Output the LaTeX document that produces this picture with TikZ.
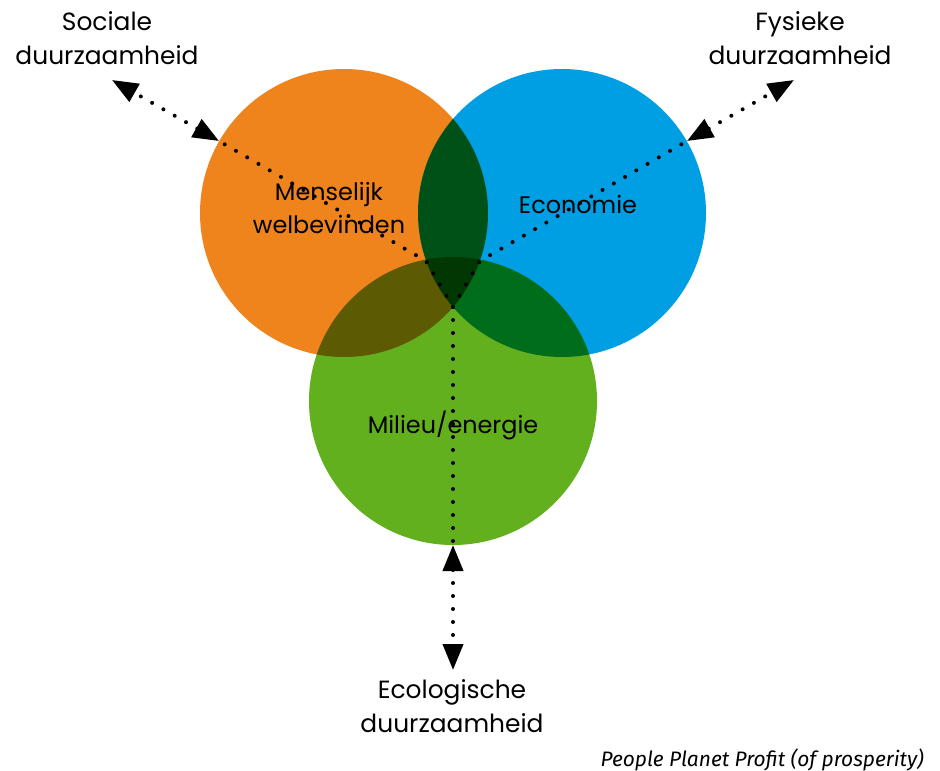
\documentclass[tikz,border=0pt]{standalone}
\usepackage{fontspec}
\setmainfont{Poppins}
\newfontfamily\notefont{Fira Sans}
\usepackage{tikz}
\usetikzlibrary{arrows.meta}

\definecolor{ppporange}{RGB}{239,131,28}
\definecolor{pppblue}{RGB}{0,159,227}
\definecolor{pppgreen}{RGB}{99,176,31}

\begin{document}
\begin{tikzpicture}[
    x=1bp, y=-1bp,
    ringtext/.style={align=center, inner sep=0pt, font=\fontsize{25}{34}\selectfont},
    dots/.style={line width=4bp, line cap=round, dash pattern=on 0bp off 13bp},
    twoway/.style={dots, {Triangle[length=26bp,width=20bp]}-{Triangle[length=26bp,width=20bp]}}
]
\useasboundingbox (0,0) rectangle (940,771);

% The three pillars, mixed where they overlap.
\begin{scope}[blend group=multiply]
\fill[ppporange] (344,213) circle [radius=144bp];
\fill[pppblue] (562,213) circle [radius=144bp];
\fill[pppgreen] (453,401) circle [radius=144bp];
\end{scope}

% Points where the dotted lines start, bend and end.
\coordinate (mid) at (453,307);
\coordinate (leftmeet) at (426,261);
\coordinate (rightmeet) at (480,261);
\coordinate (leftedge) at (219,141);
\coordinate (rightedge) at (687,141);
\coordinate (bottomedge) at (453,545);
\coordinate (leftend) at (112,80);
\coordinate (rightend) at (794,80);
\coordinate (bottomend) at (453,670);

% Texts inside the circles.
\node[ringtext, font=\fontsize{24}{34}\selectfont] (mens) at (329,208) {Menselijk\\welbevinden};
\node[ringtext, font=\fontsize{24}{34}\selectfont] (econ) at (578,205) {Economie};
\node[ringtext, font=\fontsize{24}{34}\selectfont] (milieu) at (453,425) {Milieu/energie};

% Texts outside.
\node[ringtext] (sociaal) at (107,38) {Sociale\\duurzaamheid};
\node[ringtext] (fysiek) at (800,38) {Fysieke\\duurzaamheid};
\node[ringtext] (ecolog) at (452,706) {Ecologische\\duurzaamheid};
\node[anchor=base east, inner sep=0pt, font=\notefont\itshape\fontsize{21}{24}\selectfont] (bron) at (924,766) {People Planet Profit (of prosperity)};

% Dotted links.
\draw[dots] (mid) -- (leftmeet) -- (leftedge);
\draw[dots] (mid) -- (rightmeet) -- (rightedge);
\draw[dots] (mid) -- (bottomedge);
\draw[twoway] (leftedge) -- (leftend);
\draw[twoway] (rightedge) -- (rightend);
\draw[twoway] (bottomedge) -- (bottomend);

\end{tikzpicture}
\end{document}
